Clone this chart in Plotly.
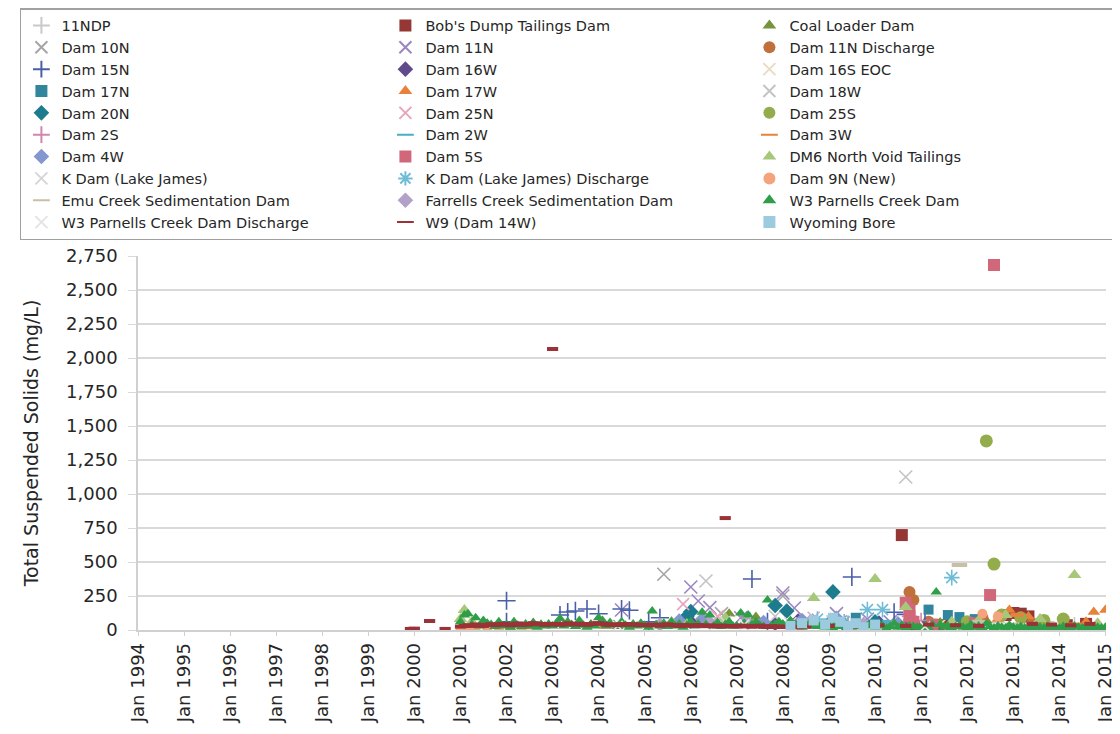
import plotly.graph_objects as go

# ---------------- data ----------------
NDP11_X = ["2012-03", "2012-09", "2013-04", "2013-10", "2014-05"]
NDP11_Y = [40, 55, 35, 60, 45]

BOBS_X = ["2010-08", "2010-10", "2010-10", "2010-11", "2011-02", "2011-07",
          "2012-02", "2012-11", "2013-01", "2013-03", "2013-05", "2013-09",
          "2014-03", "2014-08"]
BOBS_Y = [698, 40, 15, 30, 25, 35, 30, 110, 125, 120, 100, 40, 35, 45]

COAL_X = ["2006-11", "2007-06", "2008-03", "2009-01", "2011-06", "2012-06"]
COAL_Y = [120, 95, 60, 70, 55, 70]

D10N_X = ["2005-06", "2006-09", "2007-03", "2008-01", "2009-04"]
D10N_Y = [410, 120, 80, 250, 60]

D11N_X = ["2004-07", "2006-01", "2006-03", "2006-06", "2007-02", "2008-01",
          "2008-04", "2009-03", "2009-11", "2010-05"]
D11N_Y = [147, 316, 213, 165, 90, 272, 162, 120, 80, 60]

D11ND_X = ["2010-10", "2010-11", "2011-03", "2012-05", "2013-06"]
D11ND_Y = [280, 220, 60, 90, 50]

D15N_X = ["2002-01", "2002-01", "2003-03", "2003-05", "2003-07", "2003-10",
          "2004-01", "2004-07", "2004-09", "2005-02", "2005-05", "2007-05",
          "2007-09", "2009-07", "2010-06", "2010-09", "2011-02"]
D15N_Y = [215, 60, 110, 132, 140, 154, 120, 154, 145, 60, 90, 375,
          60, 390, 130, 115, 60]

D16W_X = ["2006-01", "2007-11", "2008-05", "2009-01", "2010-02"]
D16W_Y = [60, 45, 70, 40, 55]

D16S_X = ["2011-06", "2012-02", "2012-10"]
D16S_Y = [40, 30, 55]

D17N_X = ["2009-08", "2011-03", "2011-08", "2011-11", "2012-03"]
D17N_Y = [90, 150, 110, 95, 80]

D17W_X = ["2012-09", "2012-12", "2013-05", "2014-08", "2014-10", "2015-01"]
D17W_Y = [80, 147, 100, 60, 132, 147]

D18W_X = ["2006-05", "2007-11", "2009-02", "2010-09"]
D18W_Y = [360, 100, 60, 1125]

D20N_X = ["2005-12", "2006-01", "2007-11", "2008-02", "2009-02", "2009-05", "2010-01"]
D20N_Y = [100, 135, 180, 140, 280, 40, 60]

D25N_X = ["2005-11", "2006-08", "2008-09"]
D25N_Y = [190, 100, 90]

D25S_X = ["2012-01", "2012-06", "2012-08", "2012-10", "2013-03", "2013-09", "2014-02"]
D25S_Y = [60, 1390, 485, 110, 90, 70, 80]

D2S_X = ["2009-06", "2010-10", "2011-01"]
D2S_Y = [50, 100, 70]

D2W_X = ["2008-06", "2009-01", "2009-09", "2010-04"]
D2W_Y = [40, 70, 50, 60]

D3W_X = ["2002-06", "2004-03", "2012-10", "2013-02", "2014-05"]
D3W_Y = [20, 25, 120, 110, 40]

D4W_X = ["2005-10", "2006-04", "2007-08", "2008-06", "2009-03", "2010-07"]
D4W_Y = [70, 80, 60, 75, 90, 50]

D5S_X = ["2010-09", "2010-10", "2010-10", "2010-11", "2011-04", "2012-03",
         "2012-07", "2012-08"]
D5S_Y = [200, 150, 100, 60, 40, 50, 257, 2684]

DM6_X = ["2001-01", "2001-02", "2001-04", "2001-08", "2002-03", "2002-10",
         "2004-02", "2005-08", "2005-12", "2006-10", "2007-04", "2008-09",
         "2010-01", "2010-09", "2011-09", "2012-04", "2012-11", "2013-08",
         "2014-05", "2014-11"]
DM6_Y = [80, 147, 60, 40, 50, 35, 50, 60, 45, 90, 55, 235,
         375, 170, 60, 70, 110, 80, 404, 50]

KDAM_X = ["2006-10", "2008-03"]
KDAM_Y = [60, 50]

KDAMD_X = ["2008-10", "2009-05", "2009-11", "2010-03", "2011-09"]
KDAMD_Y = [80, 60, 150, 150, 385]

D9N_X = ["2001-01", "2001-03", "2001-05", "2001-08", "2001-11", "2002-02",
         "2002-05", "2012-05", "2012-09"]
D9N_Y = [5, 10, 8, 15, 10, 12, 8, 120, 100]

EMU_X = ["2011-11", "2012-04", "2013-01"]
EMU_Y = [478, 60, 40]

FARR_X = ["2005-05", "2006-06", "2007-04", "2008-08", "2009-10"]
FARR_Y = [40, 55, 50, 60, 45]

W3_X = ["2001-01", "2001-02", "2001-03", "2001-04", "2001-05", "2001-06", "2001-07", "2001-08", "2001-09", "2001-10", "2001-11", "2001-12",
        "2002-01", "2002-02", "2002-03", "2002-04", "2002-05", "2002-06", "2002-07", "2002-08", "2002-09", "2002-10", "2002-11", "2002-12",
        "2003-01", "2003-02", "2003-03", "2003-04", "2003-05", "2003-06", "2003-07", "2003-08", "2003-09", "2003-10", "2003-11", "2003-12",
        "2004-01", "2004-02", "2004-03", "2004-04", "2004-05", "2004-06", "2004-07", "2004-08", "2004-09", "2004-10", "2004-11", "2004-12",
        "2005-01", "2005-02", "2005-03", "2005-04", "2005-05", "2005-06", "2005-07", "2005-08", "2005-09", "2005-10", "2005-11", "2005-12",
        "2006-01", "2006-02", "2006-03", "2006-04", "2006-05", "2006-06", "2006-07", "2006-08", "2006-09", "2006-10", "2006-11", "2006-12",
        "2007-01", "2007-02", "2007-03", "2007-04", "2007-05", "2007-06", "2007-07", "2007-08", "2007-09", "2007-10", "2007-11", "2007-12",
        "2008-01", "2008-02", "2008-03", "2008-04", "2008-05", "2008-06", "2008-07", "2008-08", "2008-09", "2008-10", "2008-11", "2008-12",
        "2009-01", "2009-02", "2009-03", "2009-04", "2009-05", "2009-06", "2009-07", "2009-08", "2009-09", "2009-10", "2009-11", "2009-12",
        "2010-01", "2010-02", "2010-03", "2010-04", "2010-05", "2010-06", "2010-07", "2010-08", "2010-09", "2010-10", "2010-11", "2010-12",
        "2011-01", "2011-02", "2011-03", "2011-04", "2011-05", "2011-06", "2011-07", "2011-08", "2011-09", "2011-10", "2011-11", "2011-12",
        "2012-01", "2012-02", "2012-03", "2012-04", "2012-05", "2012-06", "2012-07", "2012-08", "2012-09", "2012-10", "2012-11", "2012-12",
        "2013-01", "2013-02", "2013-03", "2013-04", "2013-05", "2013-06", "2013-07", "2013-08", "2013-09", "2013-10", "2013-11", "2013-12",
        "2014-01", "2014-02", "2014-03", "2014-04", "2014-05", "2014-06", "2014-07", "2014-08", "2014-09", "2014-10", "2014-11", "2014-12",
        "2015-01"]
W3_Y = [60, 110, 120, 40, 90, 30, 70, 50, 40, 25, 60, 30,
        40, 20, 60, 35, 25, 45, 30, 55, 20, 40, 30, 45,
        30, 50, 85, 30, 60, 40, 25, 70, 35, 20, 45, 30,
        90, 70, 30, 55, 40, 25, 60, 35, 20, 45, 30, 50,
        35, 20, 140, 40, 30, 50, 25, 60, 30, 45, 20, 35,
        60, 30, 45, 130, 40, 110, 30, 55, 25, 40, 60, 30,
        30, 125, 50, 110, 40, 60, 35, 25, 220, 30, 40, 60,
        45, 30, 70, 25, 40, 20, 35, 50, 30, 25, 40, 20,
        35, 15, 50, 25, 40, 30, 20, 45, 25, 15, 30, 40,
        20, 45, 30, 15, 25, 50, 20, 35, 15, 30, 25, 20,
        20, 35, 15, 40, 280, 40, 20, 30, 15, 25, 35, 20,
        15, 40, 20, 30, 15, 45, 25, 15, 30, 20, 15, 35,
        20, 15, 25, 15, 20, 15, 30, 20, 15, 25, 15, 20,
        15, 25, 20, 15, 30, 20, 15, 25, 20, 15, 20, 15,
        20]

W3D_X = ["2004-06", "2007-03", "2011-02"]
W3D_Y = [30, 40, 25]

W9_X = ["1999-12", "2000-01", "2000-05", "2000-09",
        "2001-01", "2001-02", "2001-03", "2001-04", "2001-05", "2001-06", "2001-07", "2001-08", "2001-09", "2001-10", "2001-11", "2001-12",
        "2002-01", "2002-02", "2002-03", "2002-04", "2002-05", "2002-06", "2002-07", "2002-08", "2002-09", "2002-10", "2002-11", "2002-12",
        "2003-01", "2003-01", "2003-02", "2003-03", "2003-04", "2003-05", "2003-06", "2003-07", "2003-08", "2003-09", "2003-10", "2003-11", "2003-12",
        "2004-01", "2004-02", "2004-03", "2004-04", "2004-05", "2004-06", "2004-07", "2004-08", "2004-09", "2004-10", "2004-11", "2004-12",
        "2005-01", "2005-02", "2005-03", "2005-04", "2005-05", "2005-06", "2005-07", "2005-08", "2005-09", "2005-10", "2005-11", "2005-12",
        "2006-01", "2006-02", "2006-03", "2006-04", "2006-05", "2006-06", "2006-07", "2006-08", "2006-09", "2006-10", "2006-10", "2006-11", "2006-12",
        "2007-01", "2007-02", "2007-03", "2007-04", "2007-05", "2007-06", "2007-07", "2007-08", "2007-09", "2007-10", "2007-11", "2007-12",
        "2008-01", "2008-03", "2008-05", "2008-07", "2009-01", "2009-08", "2010-02", "2010-09",
        "2011-03", "2011-10", "2012-04", "2013-06", "2013-11", "2014-04", "2014-09"]
W9_Y = [8, 10, 66, 8,
        25, 30, 35, 30, 40, 35, 30, 38, 42, 36, 40, 45,
        40, 35, 42, 48, 38, 44, 40, 50, 46, 42, 38, 44,
        2066, 40, 45, 38, 42, 50, 44, 40, 46, 42, 38, 44, 48,
        50, 46, 40, 38, 42, 36, 40, 44, 38, 42, 40, 36,
        38, 34, 40, 36, 32, 38, 42, 36, 34, 30, 36, 32,
        34, 30, 36, 32, 28, 34, 30, 26, 32, 823, 28, 30, 26,
        28, 32, 26, 30, 24, 28, 32, 26, 22, 28, 24, 26,
        22, 26, 20, 24, 30, 25, 35, 30,
        40, 35, 30, 45, 40, 35, 45]

WYO_X = ["2008-03", "2008-06", "2008-09", "2008-12", "2009-02", "2009-04",
         "2009-06", "2009-08", "2009-10", "2010-01"]
WYO_Y = [30, 50, 70, 40, 90, 60, 30, 50, 20, 40]

X_TICK_START = "1994-01-01"
X_RANGE = ["1994-01-01", "2015-01-06"]
Y_RANGE = [0, 2750]

# ---------------- styles ----------------
SERIES = [
    ("11NDP", NDP11_X, NDP11_Y, "cross-thin", "#c9c9c9", 10),
    ("Bob's Dump Tailings Dam", BOBS_X, BOBS_Y, "square", "#953735", 12),
    ("Coal Loader Dam", COAL_X, COAL_Y, "triangle-up", "#77933c", 11),
    ("Dam 10N", D10N_X, D10N_Y, "x-thin", "#a6a6a6", 13),
    ("Dam 11N", D11N_X, D11N_Y, "x-thin", "#9d86c0", 13),
    ("Dam 11N Discharge", D11ND_X, D11ND_Y, "circle", "#c0703a", 12),
    ("Dam 15N", D15N_X, D15N_Y, "cross-thin", "#4a5fa8", 13),
    ("Dam 16W", D16W_X, D16W_Y, "diamond", "#604a8b", 11),
    ("Dam 16S EOC", D16S_X, D16S_Y, "x-thin", "#eadbc4", 11),
    ("Dam 17N", D17N_X, D17N_Y, "square", "#31859c", 10),
    ("Dam 17W", D17W_X, D17W_Y, "triangle-up", "#e8813a", 11),
    ("Dam 18W", D18W_X, D18W_Y, "x-thin", "#c4c4c8", 13),
    ("Dam 20N", D20N_X, D20N_Y, "diamond", "#1c7c8e", 12),
    ("Dam 25N", D25N_X, D25N_Y, "x-thin", "#e8a3bd", 12),
    ("Dam 25S", D25S_X, D25S_Y, "circle", "#93ad4c", 13),
    ("Dam 2S", D2S_X, D2S_Y, "cross-thin", "#cf86b0", 11),
    ("Dam 2W", D2W_X, D2W_Y, "line-ew", "#4bacc6", 6),
    ("Dam 3W", D3W_X, D3W_Y, "line-ew", "#e8813a", 10),
    ("Dam 4W", D4W_X, D4W_Y, "diamond", "#8497cf", 11),
    ("Dam 5S", D5S_X, D5S_Y, "square", "#d1687a", 12),
    ("DM6 North Void Tailings", DM6_X, DM6_Y, "triangle-up", "#a7c77a", 12),
    ("K Dam (Lake James)", KDAM_X, KDAM_Y, "x-thin", "#d6d6d6", 12),
    ("K Dam (Lake James) Discharge", KDAMD_X, KDAMD_Y, "asterisk", "#6fbcd6", 13),
    ("Dam 9N (New)", D9N_X, D9N_Y, "circle", "#f4a47c", 10),
    ("Emu Creek Sedimentation Dam", EMU_X, EMU_Y, "line-ew", "#c9bfa6", 11),
    ("Farrells Creek Sedimentation Dam", FARR_X, FARR_Y, "diamond", "#b3a2c7", 11),
    ("W3 Parnells Creek Dam", W3_X, W3_Y, "triangle-up", "#2f9e48", 10),
    ("W3 Parnells Creek Dam Discharge", W3D_X, W3D_Y, "x-thin", "#e4e4e4", 10),
    ("W9 (Dam 14W)", W9_X, W9_Y, "line-ew", "#9b3238", 8),
    ("Wyoming Bore", WYO_X, WYO_Y, "square", "#9ccbe0", 10),
]

OPEN = {"cross-thin", "x-thin", "asterisk", "line-ew"}

fig = go.Figure()
for name, xs, ys, sym, col, size in SERIES:
    if sym in OPEN:
        lw = 4 if sym == "line-ew" else 1.6
        marker = dict(symbol=sym, size=size, color=col, line=dict(color=col, width=lw))
    else:
        marker = dict(symbol=sym, size=size, color=col, line=dict(width=0))
    fig.add_trace(go.Scatter(x=xs, y=ys, mode="markers", name=name, marker=marker))

FONT = "DejaVu Sans"
# the page body adds an 8px offset, so the figure is 8px smaller than the window
fig.update_layout(
    width=1112, height=726,
    margin=dict(l=130, r=14, t=248, b=104, autoexpand=False),
    paper_bgcolor="white", plot_bgcolor="white",
    font=dict(family=FONT, color="#262626"),
    showlegend=True,
    legend=dict(
        orientation="h",
        x=-0.122, xanchor="left",
        y=1.663, yanchor="top",
        entrywidth=319, entrywidthmode="pixels",
        bordercolor="#a0a0a0", borderwidth=1.5,
        font=dict(family=FONT, size=14.5, color="#262626"),
        itemsizing="constant",
        tracegroupgap=0,
    ),
    xaxis=dict(
        type="date", range=X_RANGE,
        tick0=X_TICK_START, dtick="M12", tickformat="%b %Y",
        tickangle=-90, tickfont=dict(size=18, family=FONT, color="#262626"),
        ticklabeloverflow="allow",
        showgrid=False, showline=True, linecolor="#d0d0d0", linewidth=1.5,
        ticks="outside", ticklen=4, tickcolor="#d0d0d0",
        zeroline=False, automargin=False,
    ),
    yaxis=dict(
        range=Y_RANGE, dtick=250, tickformat=",d",
        tickfont=dict(size=18, family=FONT, color="#262626"),
        showgrid=True, gridcolor="#d9d9d9", gridwidth=2,
        showline=True, linecolor="#d0d0d0", linewidth=1.5,
        ticks="outside", ticklen=8, tickcolor="#d9d9d9",
        ticklabelstandoff=7,
        zeroline=False, automargin=False,
        title=dict(text="Total Suspended Solids (mg/L)",
                   font=dict(size=19, family=FONT, color="#262626"), standoff=22),
    ),
)

fig.write_html("out.html")
